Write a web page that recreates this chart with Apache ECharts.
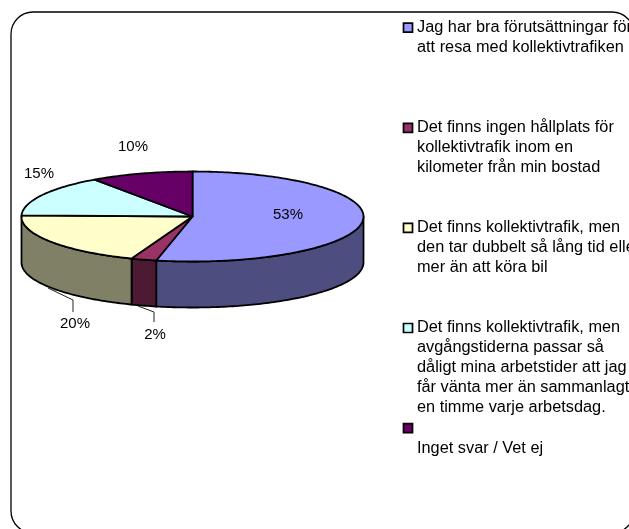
<!DOCTYPE html>
<html><head><meta charset="utf-8">
<style>html,body{margin:0;padding:0;background:#fff;overflow:hidden}#c{width:629px;height:529px}</style>
<script src="https://cdn.jsdelivr.net/npm/echarts@6/dist/echarts.min.js"></script>
</head><body><div id="c"></div>
<script>
const categories = [
  "Jag har bra förutsättningar för\natt resa med kollektivtrafiken",
  "Det finns ingen hållplats för\nkollektivtrafik inom en\nkilometer från min bostad",
  "Det finns kollektivtrafik, men\nden tar dubbelt så lång tid eller\nmer än att köra bil",
  "Det finns kollektivtrafik, men\navgångstiderna passar så\ndåligt mina arbetstider att jag\nfår vänta mer än sammanlagt\nen timme varje arbetsdag.",
  "\nInget svar / Vet ej"
];
const shares = [53.4, 2.4, 19.6, 14.9, 9.7];
const topColors = ["#9999FF", "#993366", "#FFFFCC", "#CCFFFF", "#660066"];
const sideColors = ["#4D4D80", "#4D1A33", "#808066", "#668080", "#330033"];

const FONT = '"Liberation Sans", Arial, sans-serif';
const geo = {cx: 192.5, cy: 216.5, rx: 171, ry: 45, depth: 46};
const labelAt = [[288,215],[155,335],[75,324],[39,174],[133,147]];
const leaders = [null, [[138,306],[154,312],[154,322]], [[48,288],[73,300],[73,312]], null, null];
const legendX = 408, legendTextX = 417, legendY = 27.7, legendPitch = 100.1;

const total = shares.reduce((a,b)=>a+b,0);
const starts = []; shares.reduce((a,v,i)=>{starts[i]=a;return a+v;},0);
const pt = (deg, dy=0) => {
  const t = deg*Math.PI/180;
  return [geo.cx+geo.rx*Math.sin(t), geo.cy-geo.ry*Math.cos(t)+dy];
};
const arc = (a,b,dy=0) => {
  const out=[], n=Math.max(2,Math.ceil(Math.abs(b-a)));
  for(let i=0;i<=n;i++) out.push(pt(a+(b-a)*i/n,dy));
  return out;
};
function renderItem(params, api){
  const i = params.dataIndex;
  const a0 = starts[i]/total*360, a1 = (starts[i]+api.value(1))/total*360;
  const kids = [];
  const stroke = {stroke:'#000', lineWidth:1.8, lineJoin:'round'};
  const s0 = Math.max(a0,90), s1 = Math.min(a1,270);
  if(s1>s0){
    kids.push({type:'polygon',shape:{points:arc(s0,s1).concat(arc(s1,s0,geo.depth))},
      style:Object.assign({fill:sideColors[i]},stroke)});
  }
  kids.push({type:'polygon',shape:{points:[[geo.cx,geo.cy]].concat(arc(a0,a1))},
    style:Object.assign({fill:topColors[i]},stroke)});
  if(leaders[i]) kids.push({type:'polyline',shape:{points:leaders[i]},style:{stroke:'#222',lineWidth:1,fill:null}});
  kids.push({type:'text',style:{x:labelAt[i][0],y:labelAt[i][1],text:Math.round(api.value(1))+'%',
    fill:'#000',font:'15px '+FONT,align:'center',verticalAlign:'middle'}});
  const ly = legendY + i*legendPitch;
  kids.push({type:'rect',shape:{x:legendX-4.5,y:ly-4.5,width:9,height:9},
    style:{fill:topColors[i],stroke:'#000',lineWidth:1.7}});
  kids.push({type:'text',x:legendTextX,y:ly-10,scaleX:1.02,style:{x:0,y:0,text:categories[i],fill:'#000',
    font:'16px '+FONT,lineHeight:20,align:'left',verticalAlign:'top'}});
  return {type:'group',children:kids};
}
const chart = echarts.init(document.getElementById('c'),null,{renderer:'canvas'});
chart.setOption({
  animation:false,
  backgroundColor:'#fff',
  graphic:[{type:'rect',z:-1,shape:{x:11,y:12,width:623,height:521,r:22},style:{fill:'#fff',stroke:'#000',lineWidth:1.3}}],
  series:[{type:'custom',coordinateSystem:'none',renderItem,clip:false,
    data:shares.map((v,i)=>[i,v])}]
});
</script></body></html>
